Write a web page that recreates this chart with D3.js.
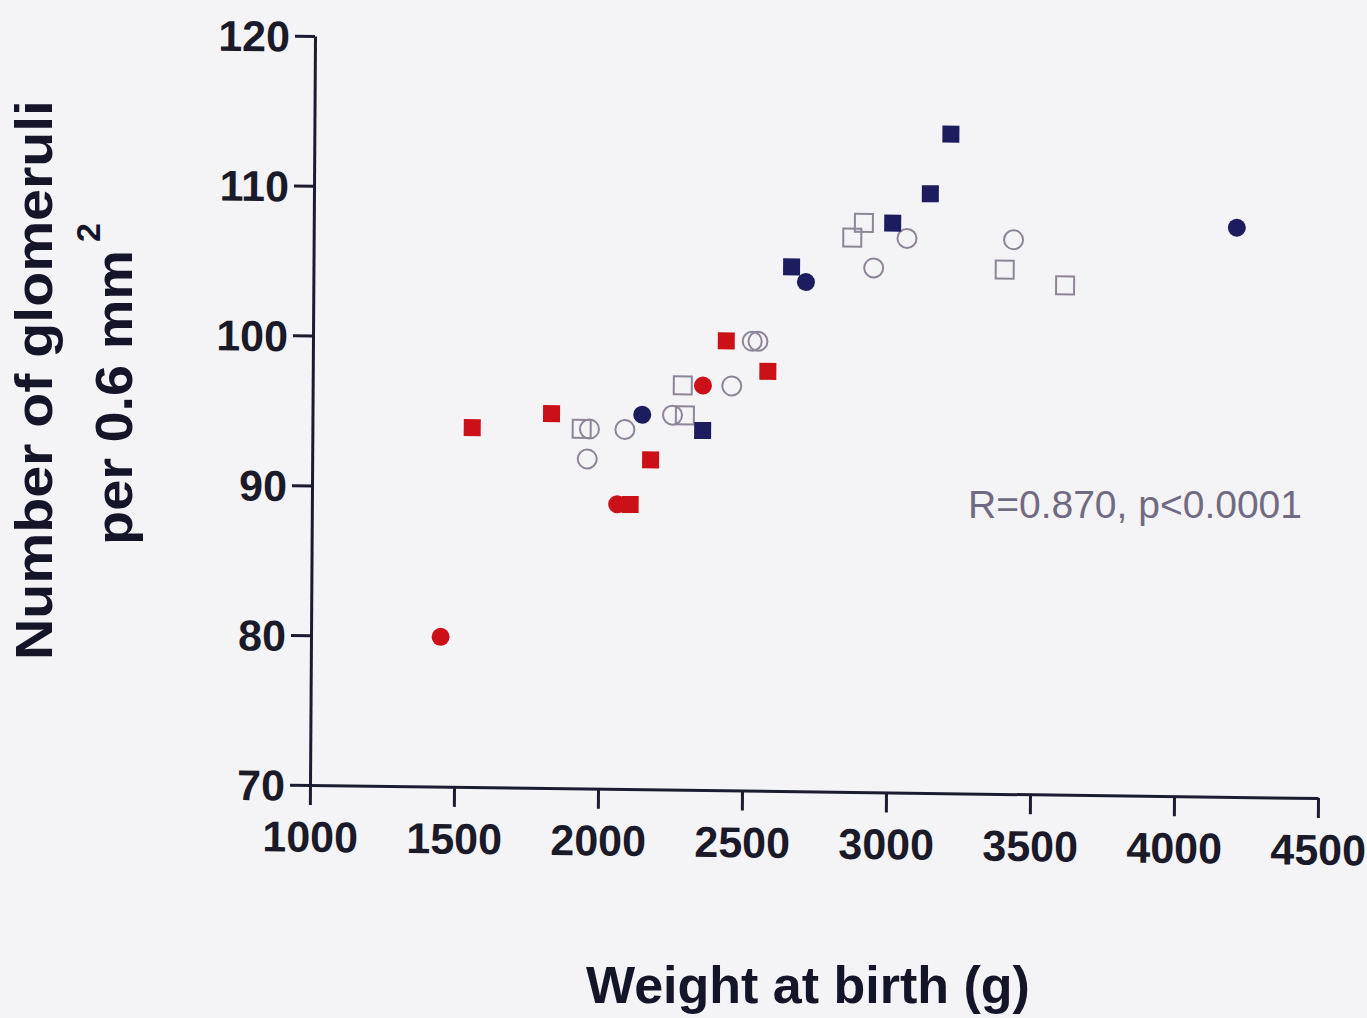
<!DOCTYPE html>
<html>
<head>
<meta charset="utf-8">
<script src="https://cdn.jsdelivr.net/npm/d3@7"></script>
<style>
  body { margin: 0; background: #f4f3f6; }
  svg { display: block; }
</style>
</head>
<body>
<svg id="chart"></svg>
<script>
// birth weight (g) and glomeruli counts, one array pair per marker group
var redCircleX = [1450, 2355, 2060];
var redCircleY = [80, 97, 89];
var redSquareX = [1555, 1830, 2105, 2175, 2435, 2580];
var redSquareY = [94, 95, 89, 92, 100, 98];
var navyCircleX = [2145, 2710, 4205];
var navyCircleY = [95, 104, 108];
var navySquareX = [2355, 2660, 3010, 3140, 3210];
var navySquareY = [94, 105, 108, 110, 114];
var openCircleX = [1955, 1962, 2085, 2250, 2455, 2525, 2545, 2945, 3060, 3430];
var openCircleY = [92, 94, 94, 95, 97, 100, 100, 105, 107, 107];
var openSquareX = [1935, 2293, 2285, 2870, 2910, 3400, 3610];
var openSquareY = [94, 95, 97, 107, 108, 105, 104];
var xTicks = [1000, 1500, 2000, 2500, 3000, 3500, 4000, 4500];
var yTicks = [70, 80, 90, 100, 110, 120];

function zip(xs, ys) {
    return xs.map(function(d, i) { return { x: d, y: ys[i] }; });
}

var svgWidth = 1367, svgHeight = 1018;
var svg = d3.select("#chart")
    .attr("width", svgWidth)
    .attr("height", svgHeight);

var ox = 310, oy = 785;
var x = d3.scaleLinear().domain([1000, 4500]).range([ox, 1318]);
var y = d3.scaleLinear().domain([70, 120]).range([oy, 36]);

// the scan is a little skewed: x axis drops to the right, y axis leans right
var kx = 0.0129, ky = -0.0067;
var g = svg.append("g")
    .attr("transform", "matrix(1," + kx + "," + ky + ",1," + (-ky * oy) + "," + (-kx * ox) + ")");

var axisColor = "#1c1c30";
var font = "Liberation Sans, Arial, sans-serif";

var yAxis = g.append("g")
    .attr("transform", "translate(" + ox + ",0)")
    .call(d3.axisLeft(y).tickValues(yTicks).tickFormat(d3.format("d"))
        .tickSize(20).tickSizeOuter(0).tickPadding(5));
var xAxis = g.append("g")
    .attr("transform", "translate(0," + oy + ")")
    .call(d3.axisBottom(x).tickValues(xTicks).tickFormat(d3.format("d"))
        .tickSize(20).tickSizeOuter(0).tickPadding(6));

[xAxis, yAxis].forEach(function(a) {
    a.selectAll("path, line").attr("stroke", axisColor).attr("stroke-width", 3);
    a.selectAll("text")
        .attr("fill", "#1a1a28")
        .attr("font-family", font)
        .attr("font-size", "43px")
        .attr("font-weight", "bold");
});
xAxis.selectAll("text").attr("dy", "0.95em");
yAxis.selectAll("text").attr("dy", "0.36em");

var red = "#cc1018", navy = "#1c1c5e", openColor = "#8f8599";

// open markers first, filled ones on top
g.append("g").selectAll("rect").data(zip(openSquareX, openSquareY)).enter()
    .append("rect")
    .attr("x", function(d) { return x(d.x) - 9; })
    .attr("y", function(d) { return y(d.y) - 9; })
    .attr("width", 18).attr("height", 18)
    .attr("fill", "none").attr("stroke", openColor).attr("stroke-width", 2);

g.append("g").selectAll("circle").data(zip(openCircleX, openCircleY)).enter()
    .append("circle")
    .attr("cx", function(d) { return x(d.x); })
    .attr("cy", function(d) { return y(d.y); })
    .attr("r", 9.5)
    .attr("fill", "none").attr("stroke", openColor).attr("stroke-width", 2);

function squares(xs, ys, color) {
    g.append("g").selectAll("rect").data(zip(xs, ys)).enter()
        .append("rect")
        .attr("x", function(d) { return x(d.x) - 8.5; })
        .attr("y", function(d) { return y(d.y) - 8.5; })
        .attr("width", 17).attr("height", 17)
        .attr("fill", color);
}
function circles(xs, ys, color) {
    g.append("g").selectAll("circle").data(zip(xs, ys)).enter()
        .append("circle")
        .attr("cx", function(d) { return x(d.x); })
        .attr("cy", function(d) { return y(d.y); })
        .attr("r", 9)
        .attr("fill", color);
}
squares(redSquareX, redSquareY, red);
circles(redCircleX, redCircleY, red);
squares(navySquareX, navySquareY, navy);
circles(navyCircleX, navyCircleY, navy);

svg.append("text")
    .attr("x", 1135).attr("y", 518)
    .attr("text-anchor", "middle")
    .attr("font-family", font)
    .attr("font-size", "39px")
    .attr("fill", "#706b82")
    .text("R=0.870, p<0.0001");

// axis titles
svg.append("text")
    .attr("x", 808).attr("y", 1003)
    .attr("text-anchor", "middle")
    .attr("font-family", font)
    .attr("font-weight", "bold")
    .attr("font-size", "52px")
    .attr("fill", "#15152a")
    .text("Weight at birth (g)");

svg.append("text")
    .attr("transform", "translate(52,100) rotate(-90)")
    .attr("text-anchor", "end")
    .attr("font-family", font)
    .attr("font-weight", "bold")
    .attr("font-size", "52px")
    .attr("textLength", 560)
    .attr("lengthAdjust", "spacingAndGlyphs")
    .attr("fill", "#15152a")
    .text("Number of glomeruli");

var t2 = svg.append("text")
    .attr("transform", "translate(132,545) rotate(-90)")
    .attr("font-family", font)
    .attr("font-weight", "bold")
    .attr("font-size", "52px")
    .attr("fill", "#15152a");
t2.append("tspan")
    .attr("textLength", 295)
    .attr("lengthAdjust", "spacingAndGlyphs")
    .text("per 0.6 mm");
t2.append("tspan")
    .attr("font-size", "34px")
    .attr("dx", "8")
    .attr("dy", "-32")
    .text("2");
</script>
</body>
</html>
